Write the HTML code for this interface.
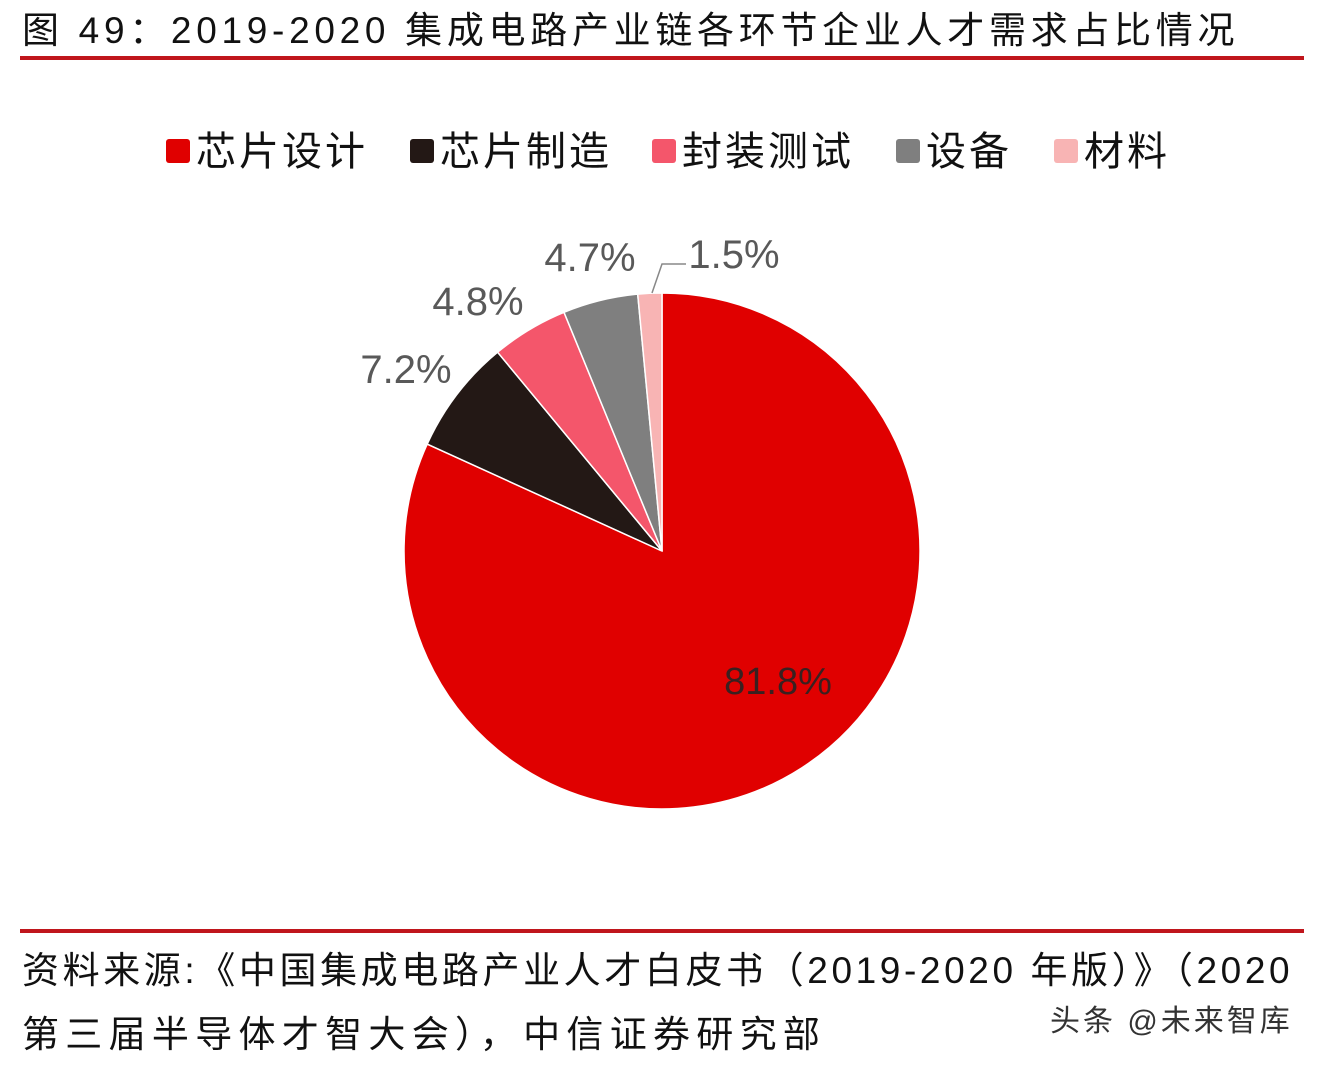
<!DOCTYPE html>
<html><head><meta charset="utf-8"><style>
body{margin:0;width:1324px;height:1068px;background:#fff;overflow:hidden;position:relative;font-family:"Liberation Sans","Noto Sans CJK SC",sans-serif;}
.t{position:absolute;white-space:nowrap;}
.line{position:absolute;left:20px;width:1284px;height:4px;background:#c0161c;}
.lg{position:absolute;top:128px;font-size:40px;color:#111;line-height:48px;white-space:nowrap;letter-spacing:3px;}
.sw{display:inline-block;width:24px;height:24px;border-radius:3px;vertical-align:middle;margin-right:6px;position:relative;top:-3px;}
</style></head><body>
<div class="t" style="left:22px;top:8px;font-size:37px;color:#111;line-height:46px;letter-spacing:4.7px;">图 49：2019-2020 集成电路产业链各环节企业人才需求占比情况</div>
<div class="line" style="top:56px;"></div>
<div class="lg" style="left:166px;"><span class="sw" style="background:#e00000"></span>芯片设计</div>
<div class="lg" style="left:410px;"><span class="sw" style="background:#231815"></span>芯片制造</div>
<div class="lg" style="left:652px;"><span class="sw" style="background:#f4566b"></span>封装测试</div>
<div class="lg" style="left:896px;"><span class="sw" style="background:#7f7f7f"></span>设备</div>
<div class="lg" style="left:1054px;"><span class="sw" style="background:#f8b4b4"></span>材料</div>
<svg width="1324" height="1068" style="position:absolute;left:0;top:0">
<g stroke="#fff" stroke-width="1.5">
<path d="M662,551 L662,293 A258,258 0 1,1 427.2,444.1 Z" fill="#e00000"/>
<path d="M662,551 L427.2,444.1 A258,258 0 0,1 497.6,352.2 Z" fill="#231815"/>
<path d="M662,551 L497.6,352.2 A258,258 0 0,1 564.0,312.3 Z" fill="#f4566b"/>
<path d="M662,551 L564.0,312.3 A258,258 0 0,1 637.7,294.1 Z" fill="#7f7f7f"/>
<path d="M662,551 L637.7,294.1 A258,258 0 0,1 662,293 Z" fill="#f8b4b4"/>
</g>
<polyline points="652,293 662,264 686,264" fill="none" stroke="#888" stroke-width="1.5"/>
<g font-family="Liberation Sans, sans-serif" font-size="40" fill="#595959">
<text x="406" y="383" text-anchor="middle">7.2%</text>
<text x="478" y="315" text-anchor="middle">4.8%</text>
<text x="590" y="271" text-anchor="middle">4.7%</text>
<text x="734" y="268" text-anchor="middle">1.5%</text>
<text x="778" y="694" text-anchor="middle" fill="#3a2020" font-size="38">81.8%</text>
</g>
</svg>
<div class="line" style="top:929px;"></div>
<div class="t" style="left:22px;top:946px;font-size:37px;color:#111;line-height:50px;letter-spacing:3.6px;">资料来源:《中国集成电路产业人才白皮书（2019-2020 年版）》（2020</div>
<div class="t" style="left:22px;top:1010px;font-size:37px;color:#111;line-height:50px;letter-spacing:6.3px;">第三届半导体才智大会），中信证券研究部</div>
<div class="t" style="left:1050px;top:1002px;font-size:30px;color:#333;line-height:40px;letter-spacing:3px;">头条 @未来智库</div>
</body></html>
